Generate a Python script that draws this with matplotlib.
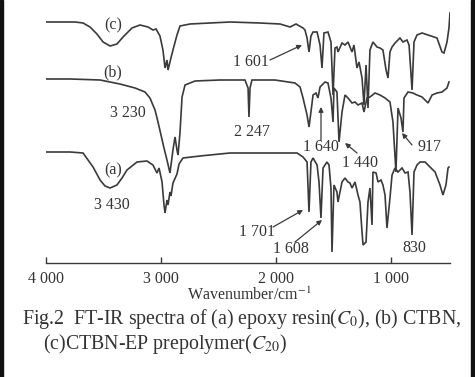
import numpy as np
import matplotlib
matplotlib.use("Agg")
import matplotlib.pyplot as plt
from matplotlib.patches import Rectangle

plt.rcParams['font.family'] = ['Liberation Serif', 'DejaVu Serif']
plt.rcParams['mathtext.fontset'] = 'stix'

# Spectra: wavenumber (cm-1) and trace height (arbitrary units, offset per curve)
wn_c = [4000, 3878, 3748, 3678, 3617, 3557, 3504, 3443, 3383, 3322, 3252, 3183, 3113, 3070, 3043,
        3009, 2983, 2965, 2948, 2939, 2922, 2896, 2861, 2835, 2748, 2574, 2400, 2139, 1965, 1878,
        1826, 1765, 1748, 1730, 1713, 1696, 1678, 1643, 1617, 1600, 1583, 1548, 1522, 1504, 1487,
        1470, 1461, 1426, 1400, 1374, 1339, 1322, 1296, 1278, 1252, 1235, 1217, 1200, 1183, 1157,
        1122, 1096, 1070, 1043, 1026, 1009, 991, 965, 922, 896, 861, 843, 817, 800, 774,
        730, 678, 600, 557, 539, 513, 496, 487]
t_c = [241, 241, 241, 240, 236, 229, 221, 217, 219, 227, 235, 238, 236, 233, 234,
       227, 213, 195, 203, 193, 201, 213, 228, 237, 239, 240, 241, 240, 239, 236,
       239, 235, 233, 225, 211, 227, 231, 231, 218, 195, 230, 231, 221, 168, 215,
       216, 211, 220, 218, 221, 211, 218, 195, 201, 185, 158, 198, 155, 213, 221,
       216, 215, 213, 193, 185, 211, 216, 220, 225, 221, 223, 218, 173, 221, 228,
       230, 228, 225, 211, 210, 221, 235, 250]

wn_b = [4000, 3791, 3530, 3357, 3226, 3139, 3096, 3052, 3026, 3000, 2974, 2948, 2922, 2896, 2878,
        2861, 2852, 2835, 2817, 2791, 2704, 2487, 2270, 2243, 2235, 2226, 2209, 2009, 1835, 1791,
        1765, 1730, 1713, 1696, 1678, 1652, 1635, 1617, 1574, 1548, 1522, 1504, 1496, 1470, 1452,
        1426, 1400, 1374, 1339, 1313, 1287, 1252, 1235, 1209, 1183, 1139, 1096, 1052, 1009, 983,
        957, 939, 913, 896, 887, 852, 809, 774, 730, 704, 678, 643, 600, 557, 513, 496]
t_b = [184, 184, 183, 179, 175, 171, 165, 153, 141, 128, 115, 103, 90, 113, 126,
       113, 108, 130, 166, 178, 182, 183, 183, 175, 146, 175, 183, 183, 180, 176,
       165, 148, 136, 151, 168, 170, 165, 176, 181, 180, 165, 141, 175, 171, 121,
       151, 168, 165, 160, 161, 158, 160, 151, 165, 166, 170, 168, 165, 161, 141,
       91, 155, 145, 131, 165, 171, 170, 168, 166, 163, 160, 168, 170, 171, 175, 181]

wn_a = [4000, 3791, 3678, 3591, 3530, 3487, 3443, 3383, 3339, 3296, 3209, 3122, 3070, 3035, 3017,
        2991, 2974, 2965, 2948, 2939, 2922, 2913, 2896, 2861, 2843, 2809, 2661, 2400, 2113, 1817,
        1765, 1730, 1713, 1696, 1678, 1643, 1626, 1609, 1591, 1557, 1539, 1522, 1513, 1496, 1470,
        1461, 1426, 1400, 1374, 1357, 1339, 1313, 1287, 1270, 1252, 1243, 1217, 1200, 1183, 1165,
        1157, 1130, 1113, 1087, 1070, 1052, 1035, 1009, 991, 965, 939, 904, 878, 852, 835,
        817, 800, 774, 748, 704, 678, 617, 574, 548, 522, 504, 496]
t_a = [111, 111, 110, 96, 83, 77, 75, 78, 85, 93, 101, 102, 98, 90, 95,
       81, 58, 50, 63, 58, 71, 67, 80, 89, 99, 105, 107, 110, 110, 110,
       106, 101, 51, 101, 105, 98, 81, 45, 95, 101, 98, 75, 11, 78, 71,
       61, 81, 85, 81, 80, 75, 81, 68, 61, 31, 18, 21, 61, 75, 38,
       91, 90, 81, 83, 78, 68, 35, 65, 88, 95, 91, 95, 90, 91, 71,
       28, 91, 98, 101, 101, 98, 91, 78, 68, 78, 95, 96]

ticks = [4000, 3000, 2000, 1000]
tick_labels = ['4 000', '3 000', '2 000', '1 000']

W, H = 475, 377
fig = plt.figure(figsize=(W / 100, H / 100), dpi=100)
ax = fig.add_axes([46 / W, (H - 263) / H, 404 / W, 263 / H])

col = '#3a3a3a'
for wn, t in [(wn_c, t_c), (wn_b, t_b), (wn_a, t_a)]:
    ax.plot(wn, t, color=col, lw=1.2, solid_joinstyle='miter')

ax.set_xlim(4000, 4000 - 404 / 0.115)
ax.set_ylim(0, 263)
for s in ['top', 'left', 'right']:
    ax.spines[s].set_visible(False)
ax.spines['bottom'].set_color(col)
ax.spines['bottom'].set_linewidth(1.0)
ax.set_yticks([])
ax.set_xticks(ticks)
ax.set_xticklabels(tick_labels)
ax.tick_params(axis='x', direction='in', length=4, width=1.0, color=col,
               labelsize=11.5, labelcolor='#333333', pad=6)


def fp(x, y):
    return (x / W, 1 - y / H)


txt = dict(fontsize=11.5, color='#333333', ha='center', va='center')
fig.text(*fp(113, 25), '(c)', **txt)
fig.text(*fp(113, 72), '(b)', **txt)
fig.text(*fp(113, 170), '(a)', **txt)
fig.text(*fp(128, 113), '3 230', **txt)
fig.text(*fp(112, 205), '3 430', **txt)
fig.text(*fp(252, 132), '2 247', **txt)
fig.text(*fp(414, 248), '830', **txt)

arrows = [('1 601', (251, 62), (270, 60), (302, 45)),
          ('1 640', (321, 147), (321, 140), (321, 107)),
          ('1 440', (360, 163), (357, 153), (345, 143)),
          ('917', (430, 147), (412, 145), (402, 133)),
          ('1 701', (257, 232), (273, 227), (303, 210)),
          ('1 608', (291, 249), (295, 242), (322, 220))]
for lab, lpos, tail, head in arrows:
    fig.text(*fp(*lpos), lab, **txt)
    ax.annotate('', xy=fp(*head), xycoords='figure fraction',
                xytext=fp(*tail), textcoords='figure fraction',
                arrowprops=dict(arrowstyle='-|>', color=col, lw=0.9,
                                mutation_scale=7, shrinkA=0, shrinkB=0))

fig.text(*fp(249, 295), 'Wavenumber/cm$^{-1}$', **txt)
fig.text(*fp(22, 319), r'Fig.2  FT-IR spectra of (a) epoxy resin($C_0$), (b) CTBN,',
         fontsize=14.3, color='#333333', ha='left', va='center')
fig.text(*fp(43, 344), r'(c)CTBN-EP prepolymer($C_{20}$)',
         fontsize=14.3, color='#333333', ha='left', va='center')

# dark scan borders at the left and right edges
fig.add_artist(Rectangle((0, 0), 3 / W, 1, transform=fig.transFigure, color='#111111'))
fig.add_artist(Rectangle((1 - 4 / W, 0), 4 / W, 1, transform=fig.transFigure, color='#111111'))

fig.savefig('out.png', dpi=100)
